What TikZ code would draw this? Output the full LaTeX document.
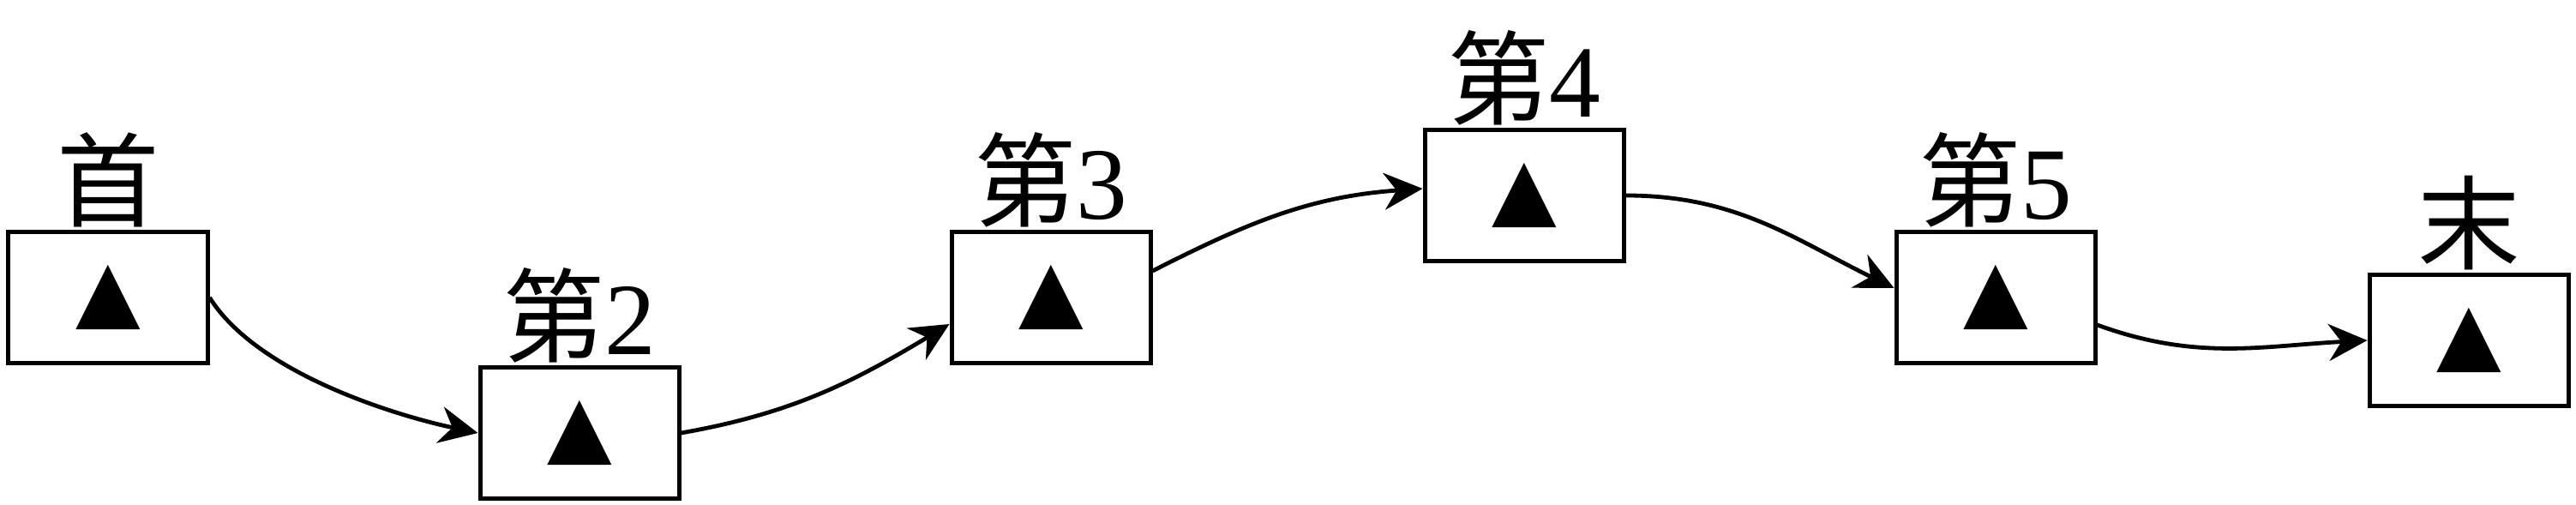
\documentclass[tikz,border=0pt]{standalone}
\usepackage{fontspec}
\setmainfont{Liberation Serif}
\newfontfamily\cjk{Noto Sans CJK SC}
\newfontfamily\symfont{DejaVu Sans}
\usetikzlibrary{arrows.meta}
\begin{document}
\begin{tikzpicture}
[boxdecorate/.style={shape=rectangle,draw,line width=0.5mm,minimum width=2.32cm,
  minimum height=1.53cm,inner sep=0pt,font=\symfont\fontsize{28}{30}\selectfont},%
  labeldecorate/.style={anchor=base,inner sep=0pt,font=\fontsize{34}{40}\selectfont},%
  linedecorate/.style={-{Stealth[length=4.5mm,width=4.3mm]},line width=0.48mm}]
\useasboundingbox (0,0) rectangle (30.05,5.89);
%% nodes or boxes
\foreach \nodename/\x/\y/\chr/\num in {b1/1.26/2.42/首/{}, b2/6.76/0.84/第/2,
  b3/12.26/2.42/第/3, b4/17.78/3.61/第/4, b5/23.28/2.42/第/5, b6/28.80/1.92/末/{}} {
  \node (\nodename) at (\x,\y) [boxdecorate] {▲};
  \node (\nodename-label) at ([yshift=0.12cm]\nodename.north) [labeldecorate]
    {{\cjk\chr}\num};
}
%% edges or lines
\draw[linedecorate] (b1.east) to[out=-58,in=168,looseness=0.75] (b2.west);
\draw[linedecorate] (b2.east) to[out=10,in=211] ([yshift=-0.31cm]b3.west);
\draw[linedecorate] ([yshift=0.31cm]b3.east) to[out=27,in=184] ([yshift=0.08cm]b4.west);
\draw[linedecorate] (b4.east) to[out=0,in=154] ([yshift=0.11cm]b5.west);
\draw[linedecorate] ([yshift=-0.32cm]b5.east) to[out=-20,in=183] (b6.west);
\end{tikzpicture}
\end{document}
